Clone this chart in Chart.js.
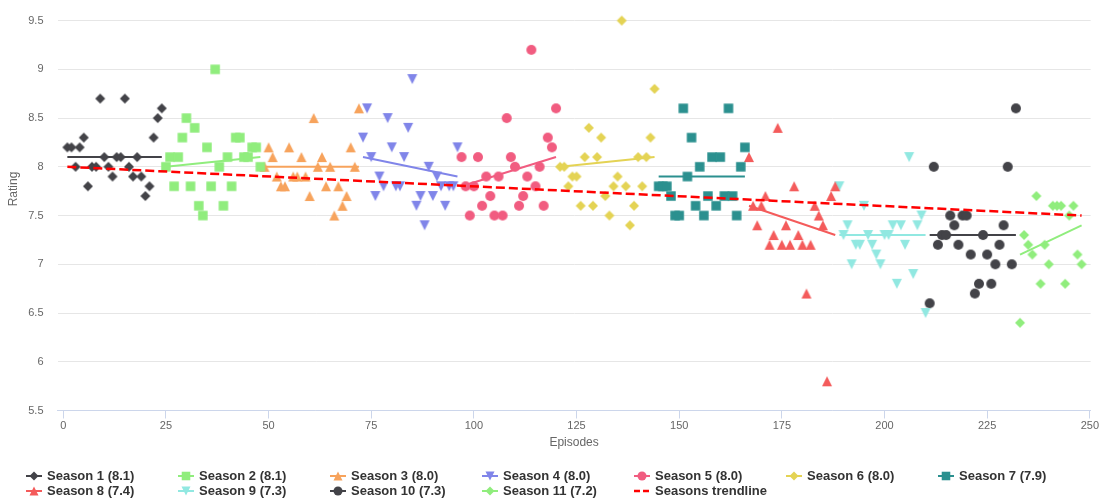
<!DOCTYPE html>
<html><head><meta charset="utf-8">
<script src="https://cdn.jsdelivr.net/npm/chart.js@4.4.0/dist/chart.umd.min.js"></script>
<style>
html,body{margin:0;padding:0;background:#fff;}
#wrap{position:relative;width:1100px;height:502px;overflow:hidden;}
#c{position:absolute;left:0;top:0;}
#legend{position:absolute;left:0;top:0;width:1100px;height:502px;pointer-events:none;font:bold 13px "Liberation Sans",Arial,sans-serif;color:#333;}
.item{position:absolute;height:14px;line-height:14px;display:flex;align-items:center;white-space:nowrap;}
.item canvas{margin-right:5px;display:block;}
#ytitle{position:absolute;left:13px;top:189px;transform:translate(-50%,-50%) rotate(-90deg);font:12px "Liberation Sans",Arial,sans-serif;color:#666;white-space:nowrap;}
</style></head><body>
<div id="wrap"><canvas id="c" width="1100" height="502"></canvas><div id="legend"></div><div id="ytitle">Rating</div></div>
<script>
// ---- data ----
const seasonLabels = ['Season 1 (8.1)','Season 2 (8.1)','Season 3 (8.0)','Season 4 (8.0)','Season 5 (8.0)','Season 6 (8.0)','Season 7 (7.9)','Season 8 (7.4)','Season 9 (7.3)','Season 10 (7.3)','Season 11 (7.2)'];
const trendLabel = 'Seasons trendline';
const firstEpisode = [1,25,49,73,97,121,145,167,189,211,233];
const s1 = [8.2,8.2,8.0,8.2,8.3,7.8,8.0,8.0,8.7,8.1,8.0,7.9,8.1,8.1,8.7,8.0,7.9,8.1,7.9,7.7,7.8,8.3,8.5,8.6];
const s2 = [8.0,8.1,7.8,8.1,8.3,8.5,7.8,8.4,7.6,7.5,8.2,7.8,9.0,8.0,7.6,8.1,7.8,8.3,8.3,8.1,8.1,8.2,8.2,8.0];
const s3 = [8.0,8.2,8.1,7.9,7.8,7.8,8.2,7.9,7.9,8.1,7.9,7.7,8.5,8.0,8.1,7.8,8.0,7.5,7.8,7.6,7.7,8.2,8.0,8.6];
const s4 = [8.3,8.6,8.1,7.7,7.9,7.8,8.5,8.2,7.8,7.8,8.1,8.4,8.9,7.6,7.7,7.4,8.0,7.7,7.9,7.8,7.6,7.8,7.8,8.2];
const s5 = [8.1,7.8,7.5,7.8,8.1,7.6,7.9,7.7,7.5,7.9,7.5,8.5,8.1,8.0,7.6,7.7,7.9,9.2,7.8,8.0,7.6,8.3,8.2,8.6];
const s6 = [8.0,8.0,7.8,7.9,7.9,7.6,8.1,8.4,7.6,8.1,8.3,7.7,7.5,7.8,7.9,9.5,7.8,7.4,7.6,8.1,7.8,8.1,8.3,8.8];
const s7 = [7.8,7.8,7.8,7.7,7.5,7.5,8.6,7.9,8.3,7.6,8.0,7.5,7.7,8.1,7.6,8.1,7.7,8.6,7.7,7.5,8.0,8.2];
const s8 = [8.1,7.6,7.4,7.6,7.7,7.2,7.3,8.4,7.2,7.4,7.2,7.8,7.3,7.2,6.7,7.2,7.6,7.5,7.4,5.8,7.7,7.8];
const s9 = [7.8,7.3,7.4,7.0,7.2,7.2,7.6,7.3,7.2,7.1,7.0,7.3,7.3,7.4,6.8,7.4,7.2,8.1,6.9,7.4,7.5,6.5];
const s10 = [6.6,8.0,7.2,7.3,7.3,7.5,7.4,7.2,7.5,7.5,7.1,6.7,6.8,7.3,7.1,6.8,7.0,7.2,7.4,8.0,7.0,8.6];
const s11 = [6.4,7.3,7.2,7.1,7.7,6.8,7.2,7.0,7.6,7.6,7.6,6.8,7.5,7.6,7.1,7.0];
const seasonRatings = [s1,s2,s3,s4,s5,s6,s7,s8,s9,s10,s11];
const trendStart = [8.1,8.0,8.0,8.1,7.8,8.0,7.9,7.6,7.3,7.3,7.1];
const trendEnd   = [8.1,8.1,8.0,7.9,8.1,8.1,7.9,7.3,7.3,7.3,7.4];
const overallTrendEpisodes = [1,248];
const overallTrendValues = [8.0,7.5];
const xTicks = [0,25,50,75,100,125,150,175,200,225,250];
const yTicks = [5.5,6,6.5,7,7.5,8,8.5,9,9.5];

// ---- styles ----
const colors = ['#434348','#90ed7d','#f7a35c','#8085e9','#f15c80','#e4d354','#2b908f','#f45b5b','#91e8e1','#434348','#90ed7d'];
const shapes = ['diamond','square','triangle','triangle-down','circle','diamond','square','triangle','triangle-down','circle','diamond'];
const FONT = '"Liberation Sans", Arial, sans-serif';

function drawShape(ctx, shape, cx, cy, r, color){
  ctx.fillStyle = color;
  ctx.beginPath();
  if(shape==='circle'){ ctx.arc(cx,cy,r,0,Math.PI*2); }
  else if(shape==='square'){ const s=r*0.95; ctx.rect(cx-s,cy-s,2*s,2*s); }
  else if(shape==='diamond'){ ctx.moveTo(cx,cy-r); ctx.lineTo(cx+r,cy); ctx.lineTo(cx,cy+r); ctx.lineTo(cx-r,cy); ctx.closePath(); }
  else if(shape==='triangle'){ ctx.moveTo(cx,cy-r); ctx.lineTo(cx+r,cy+r); ctx.lineTo(cx-r,cy+r); ctx.closePath(); }
  else if(shape==='triangle-down'){ ctx.moveTo(cx-r,cy-r); ctx.lineTo(cx+r,cy-r); ctx.lineTo(cx,cy+r); ctx.closePath(); }
  ctx.fill();
}
function makeMarker(shape, color){
  const c = document.createElement('canvas');
  c.width = 14; c.height = 14;
  drawShape(c.getContext('2d'), shape, 7, 7, 5, color);
  return c;
}

const datasets = [];
datasets.push({
  label: trendLabel, type:'line',
  data: overallTrendEpisodes.map((e,i)=>({x:e,y:overallTrendValues[i]})),
  borderColor:'#ff0000', borderWidth:2.5, borderDash:[9,4], pointRadius:0, fill:false, order:0
});
seasonRatings.forEach((arr, si)=>{
  const marker = makeMarker(shapes[si], colors[si]);
  datasets.push({
    label: seasonLabels[si], type:'scatter',
    data: arr.map((v,i)=>({x:firstEpisode[si]+i, y:v})),
    pointStyle: marker, pointRadius:5, backgroundColor:colors[si], borderColor:colors[si], order:1, clip:false
  });
  datasets.push({
    label: seasonLabels[si]+' trend', type:'line',
    data: [{x:firstEpisode[si], y:trendStart[si]},{x:firstEpisode[si]+arr.length-1, y:trendEnd[si]}],
    borderColor: colors[si], borderWidth:2, pointRadius:0, fill:false, order:2
  });
});

Chart.defaults.font.family = FONT;
new Chart(document.getElementById('c'), {
  type:'scatter',
  data:{datasets},
  options:{
    responsive:false, animation:false, devicePixelRatio:1,
    layout:{padding:{top:16,right:7,left:0,bottom:51.8}},
    plugins:{legend:{display:false}, tooltip:{enabled:false}},
    scales:{
      x:{
        type:'linear', min:-1.4, max:250.2,
        afterBuildTicks:s=>{ s.ticks = xTicks.map(v=>({value:v})); },
        grid:{drawOnChartArea:false, drawTicks:true, tickLength:8, color:'#ccd6eb'},
        border:{display:true, color:'#ccd6eb', width:1},
        ticks:{padding:1, color:'#666', font:{size:11}, maxRotation:0, autoSkip:false},
        title:{display:true, text:'Episodes', color:'#666', font:{size:12}, padding:{top:0,bottom:0}},
        afterFit:s=>{ s.height = 39.7; }
      },
      y:{
        type:'linear', min:5.5, max:9.5,
        afterBuildTicks:s=>{ s.ticks = yTicks.map(v=>({value:v})); },
        grid:{color:'#e6e6e6', drawTicks:false},
        border:{display:false},
        ticks:{padding:14, color:'#666', font:{size:11}, callback:v=>String(v)},
        afterFit:s=>{ s.width = 57.5; }
      }
    }
  }
});

// ---- HTML legend ----
const legend = document.getElementById('legend');
const legendItems = seasonLabels.map((l,i)=>({label:l, color:colors[i], shape:shapes[i], dashed:false}));
legendItems.push({label:trendLabel, color:'#ff0000', shape:null, dashed:true});
legendItems.forEach((it, idx)=>{
  const col = idx % 7, row = Math.floor(idx / 7);
  const div = document.createElement('div');
  div.className = 'item';
  div.style.left = (26 + 152*col) + 'px';
  div.style.top = (469 + 15*row) + 'px';
  const c = document.createElement('canvas');
  c.width = 16; c.height = 12;
  const ctx = c.getContext('2d');
  ctx.strokeStyle = it.color;
  ctx.lineWidth = it.dashed ? 2.5 : 2;
  if(it.dashed) ctx.setLineDash([6,3]);
  ctx.beginPath(); ctx.moveTo(0,6); ctx.lineTo(16,6); ctx.stroke();
  if(it.shape) drawShape(ctx, it.shape, 8, 6, 4.5, it.color);
  div.appendChild(c);
  const sp = document.createElement('span');
  sp.textContent = it.label;
  div.appendChild(sp);
  legend.appendChild(div);
});
</script>
</body></html>
